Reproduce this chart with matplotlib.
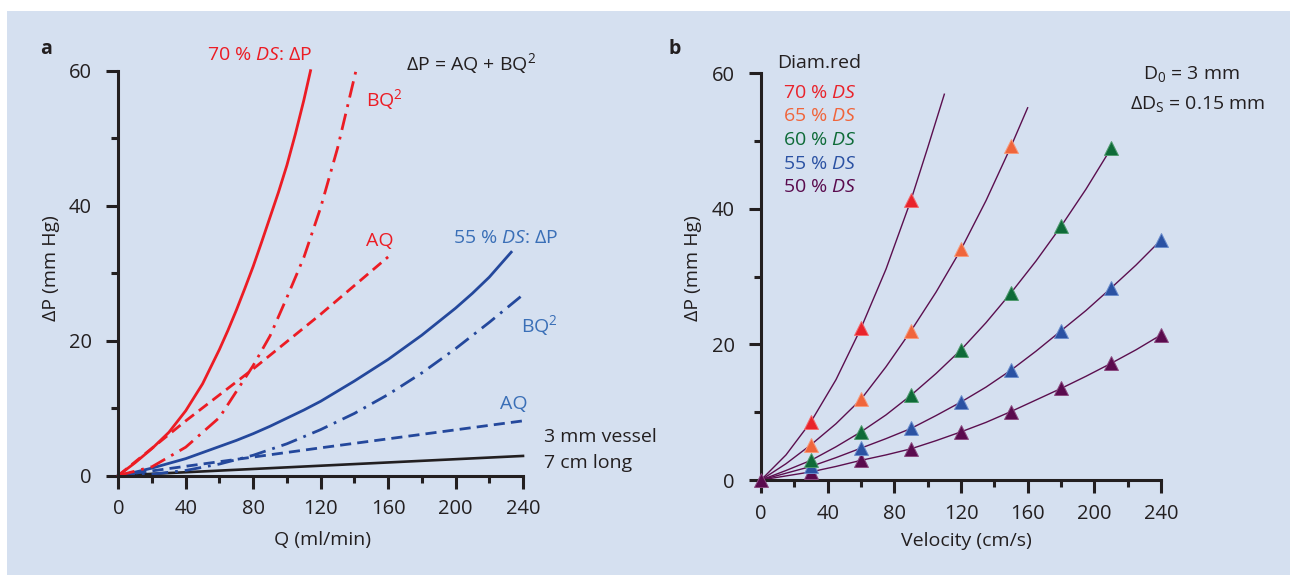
import matplotlib.pyplot as plt
from matplotlib.patches import Rectangle

plt.rcParams['font.family'] = ['Open Sans', 'DejaVu Sans']
plt.rcParams['mathtext.fontset'] = 'custom'
plt.rcParams['mathtext.rm'] = 'Open Sans'
plt.rcParams['mathtext.it'] = 'Open Sans:italic'
plt.rcParams['mathtext.bf'] = 'Open Sans:bold'
plt.rcParams['lines.solid_joinstyle'] = 'round'
plt.rcParams['lines.dash_joinstyle'] = 'round'

# ---- panel a: pressure drop vs flow (Q in ml/min, dP in mm Hg) ----
q_vessel = [0, 240]
dp_vessel = [0, 2.9]

q_55_aq = [0, 120, 240]
dp_55_aq = [0, 4.1, 8.1]
q_55_bq = [0, 20, 40, 60, 80, 100, 120, 140, 160, 180, 200, 220, 240]
dp_55_bq = [0, 0.2, 0.75, 1.7, 3.0, 4.7, 6.8, 9.2, 12.0, 15.2, 18.8, 22.7, 26.8]
q_55_dp = [0, 10, 20, 30, 40, 50, 60, 70, 80, 90, 100, 110, 120, 130, 140, 150,
           160, 170, 180, 190, 200, 210, 220, 233]
dp_55_dp = [0, 0.5, 1.1, 1.8, 2.5, 3.4, 4.3, 5.2, 6.2, 7.3, 8.5, 9.7, 11.0, 12.5, 14.0, 15.6,
            17.2, 19.0, 20.8, 22.8, 24.8, 27.0, 29.4, 33.1]

q_70_aq = [0, 40, 80, 120, 160]
dp_70_aq = [0, 8.1, 15.8, 23.9, 32.4]
q_70_bq = [0, 20, 40, 60, 80, 90, 100, 110, 120, 130, 140, 141.5]
dp_70_bq = [0, 1.3, 4.2, 8.6, 16.3, 20.7, 26.4, 32.3, 39.7, 48.5, 59.0, 60.6]
q_70_dp = [0, 10, 20, 30, 40, 50, 60, 65, 70, 75, 80, 85, 90, 95, 100, 105, 110, 114]
dp_70_dp = [0, 1.9, 4.0, 6.4, 9.6, 13.6, 18.7, 21.5, 24.5, 27.7, 31.0, 34.6, 38.3, 42.0,
            46.0, 50.6, 55.6, 60.0]

# ---- panel b: pressure drop vs velocity (cm/s) per diameter reduction ----
ds_labels = ['70 % $\\mathit{DS}$', '65 % $\\mathit{DS}$', '60 % $\\mathit{DS}$',
             '55 % $\\mathit{DS}$', '50 % $\\mathit{DS}$']
ds_colors = ['#e9232b', '#f0653b', '#0e6b38', '#2b52a3', '#5a0b4e']
ds_edges = ['#f26a6e', '#f7997a', '#4f9a6e', '#6a8ccc', '#8a4a80']

line_v = [
    [0, 15, 30, 45, 60, 75, 90, 100, 110],
    [0, 15, 30, 45, 60, 75, 90, 105, 120, 135, 150, 160],
    [0, 15, 30, 45, 60, 75, 90, 105, 120, 135, 150, 165, 180, 195, 210],
    [0, 15, 30, 45, 60, 75, 90, 105, 120, 135, 150, 165, 180, 195, 210, 225, 240],
    [0, 15, 30, 45, 60, 75, 90, 105, 120, 135, 150, 165, 180, 195, 210, 225, 240],
]
line_dp = [
    [0, 3.7, 8.6, 14.8, 22.4, 31.1, 41.3, 49.0, 56.9],
    [0, 2.4, 5.2, 8.3, 11.9, 16.7, 22.0, 27.7, 34.0, 41.2, 49.2, 54.9],
    [0, 1.4, 2.9, 4.9, 7.1, 9.6, 12.5, 15.7, 19.2, 23.2, 27.6, 32.3, 37.4, 42.9, 48.9],
    [0, 1.0, 2.0, 3.3, 4.7, 6.1, 7.6, 9.5, 11.5, 13.7, 16.2, 19.0, 22.0, 25.0, 28.3, 31.7, 35.4],
    [0, 0.6, 1.2, 2.0, 2.9, 3.7, 4.6, 5.8, 7.1, 8.5, 10.1, 11.8, 13.5, 15.3, 17.2, 19.2, 21.4],
]
mark_v = [
    [30, 60, 90],
    [30, 60, 90, 120, 150],
    [30, 60, 90, 120, 150, 180, 210],
    [30, 60, 90, 120, 150, 180, 210, 240],
    [0, 30, 60, 90, 120, 150, 180, 210, 240],
]
mark_dp = [
    [8.6, 22.4, 41.3],
    [5.2, 11.9, 22.0, 34.0, 49.2],
    [2.9, 7.1, 12.5, 19.2, 27.6, 37.4, 48.9],
    [2.0, 4.7, 7.6, 11.5, 16.2, 22.0, 28.3, 35.4],
    [0, 1.2, 2.9, 4.6, 7.1, 10.1, 13.5, 17.2, 21.4],
]

W, H = 1290, 575
INK = '#231f20'
RED = '#ec1c24'
BLUE = '#24489c'
BLUE_TXT = '#3a6fb7'
BG = '#d5e0f0'
FS = 14


def fig_text(fig, x, y, s, **kw):
    # x, y in pixels from the top-left corner
    kw.setdefault('fontsize', FS)
    kw.setdefault('color', INK)
    kw.setdefault('va', 'baseline')
    return fig.text(x / W, 1 - y / H, s, **kw)


def style_axes(ax):
    ax.set_facecolor('none')
    for s in ['top', 'right']:
        ax.spines[s].set_visible(False)
    for s in ['left', 'bottom']:
        ax.spines[s].set_linewidth(2.2)
        ax.spines[s].set_color(INK)
        ax.spines[s].set_capstyle('projecting')
    ax.set_xlim(0, 240)
    ax.set_ylim(0, 60)
    ax.set_xticks(range(0, 241, 40))
    ax.set_xticks(range(0, 241, 20), minor=True)
    ax.set_yticks([0, 20, 40, 60])
    ax.set_yticks([10, 30, 50], minor=True)
    ax.tick_params(which='major', direction='out', length=9, width=2.2,
                   color=INK, labelcolor=INK, labelsize=FS + 0.5)
    ax.tick_params(which='minor', direction='out', length=5, width=2.2, color=INK)
    ax.tick_params(axis='x', which='major', pad=8)
    ax.tick_params(axis='y', which='major', pad=10)


fig = plt.figure(figsize=(W / 100, H / 100), dpi=100, facecolor='white')
fig.patches.append(Rectangle((7 / W, 0), 1, (H - 11) / H, transform=fig.transFigure,
                             facecolor=BG, edgecolor='none', zorder=-10))

# ---------------- panel a ----------------
ax1 = fig.add_axes([118.3 / W, 1 - 475.5 / H, 404.7 / W, 404.8 / H])
style_axes(ax1)
lw = 2.0
ax1.plot(q_vessel, dp_vessel, color=INK, lw=1.9, clip_on=False)
ax1.plot(q_55_aq, dp_55_aq, color=BLUE, lw=lw, ls=(0, (4, 2.2)), clip_on=False)
ax1.plot(q_55_bq, dp_55_bq, color=BLUE, lw=lw, ls=(0, (6, 2.5, 1, 2.5)), clip_on=False)
ax1.plot(q_55_dp, dp_55_dp, color=BLUE, lw=lw, clip_on=False)
ax1.plot(q_70_aq, dp_70_aq, color=RED, lw=lw, ls=(0, (4, 2.2)), clip_on=False)
ax1.plot(q_70_bq, dp_70_bq, color=RED, lw=lw, ls=(0, (6, 2.5, 1, 2.5)), clip_on=False)
ax1.plot(q_70_dp, dp_70_dp, color=RED, lw=lw, clip_on=False)

fig_text(fig, 40, 54, 'a', fontweight='bold')
fig_text(fig, 207, 60, '70 % $\\mathit{DS}$: ΔP', color=RED)
fig_text(fig, 406, 70, 'ΔP = AQ + BQ$^2$')
fig_text(fig, 366, 106, 'BQ$^2$', color=RED)
fig_text(fig, 366, 246, 'AQ', color=RED)
fig_text(fig, 453, 243, '55 % $\\mathit{DS}$: ΔP', color=BLUE_TXT)
fig_text(fig, 521, 332, 'BQ$^2$', color=BLUE_TXT)
fig_text(fig, 500, 409, 'AQ', color=BLUE_TXT)
fig_text(fig, 544, 442, '3 mm vessel')
fig_text(fig, 544, 468, '7 cm long')
fig_text(fig, 322, 545, 'Q (ml/min)', ha='center')
fig_text(fig, 51, 268.5, 'ΔP (mm Hg)', rotation=90, ha='center', va='center')

# ---------------- panel b ----------------
ax2 = fig.add_axes([761 / W, 1 - 480 / H, 400 / W, 406.8 / H])
style_axes(ax2)
for v, dp in zip(line_v, line_dp):
    ax2.plot(v, dp, color='#5b0f4f', lw=1.0, clip_on=False, zorder=2)
for v, dp, c, ec in zip(mark_v[::-1], mark_dp[::-1], ds_colors[::-1], ds_edges[::-1]):
    ax2.plot(v, dp, ls='none', marker='^', ms=10.5, color=c,
             mec=ec, mew=0.7, clip_on=False, zorder=3)

fig_text(fig, 668, 53.5, 'b', fontweight='bold')
fig_text(fig, 777, 68.5, 'Diam.red')
for i, (lab, c) in enumerate(zip(ds_labels, ds_colors)):
    fig_text(fig, 783, 97.7 + i * 23.65, lab, color=c)
fig_text(fig, 1143, 79, 'D$_0$ = 3 mm')
fig_text(fig, 1130, 108.5, 'ΔD$_\\mathrm{S}$ = 0.15 mm')
fig_text(fig, 966, 546, 'Velocity (cm/s)', ha='center')
fig_text(fig, 693, 268.5, 'ΔP (mm Hg)', rotation=90, ha='center', va='center')

fig.savefig('out.png', dpi=100, facecolor='white')
